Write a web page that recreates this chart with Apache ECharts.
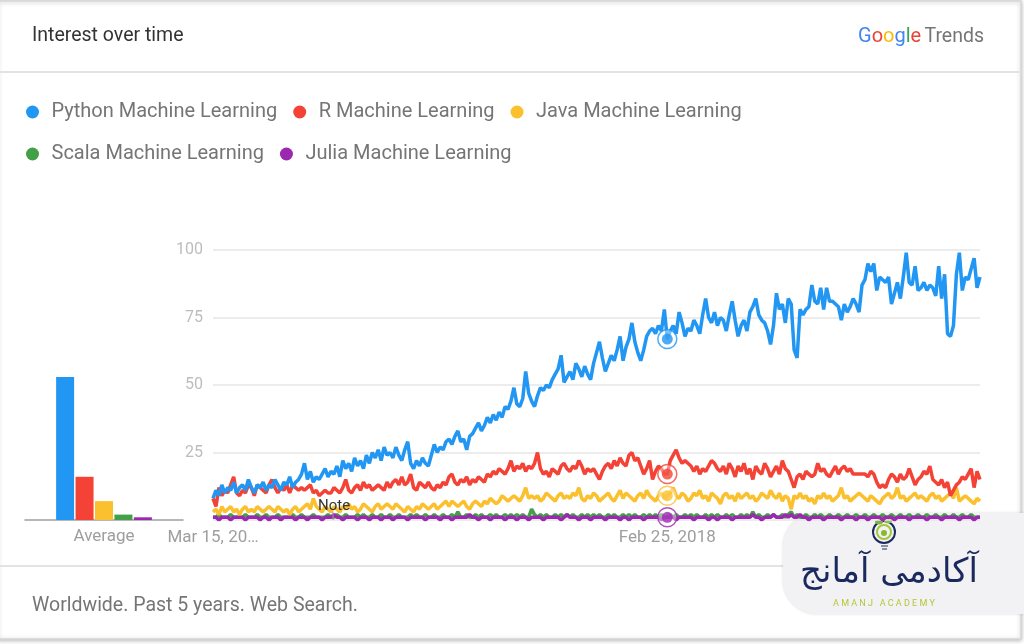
<!DOCTYPE html>
<html>
<head>
<meta charset="utf-8">
<script src="https://cdn.jsdelivr.net/npm/echarts@6/dist/echarts.min.js"></script>
<style>
  html, body { margin: 0; padding: 0; background: #fff; }
  #chart { width: 1024px; height: 644px; }
</style>
</head>
<body>
<div id="chart"></div>
<script>
// weekly interest, Mar 15 2015 .. Mar 2020 (261 weeks)
let python = [
    8, 11, 9, 13, 10, 12, 11, 14, 10, 12,
    13, 11, 15, 12, 10, 13, 12, 14, 11, 13,
    12, 15, 13, 11, 14, 13, 16, 12, 14, 15,
    17, 21, 15, 18, 14, 16, 15, 17, 19, 16,
    18, 17, 20, 16, 22, 19, 21, 18, 23, 20,
    22, 19, 24, 21, 25, 23, 26, 22, 27, 24,
    25, 23, 27, 24, 22, 26, 29, 21, 19, 22,
    20, 23, 21, 20, 24, 28, 25, 27, 26, 29,
    30, 28, 31, 33, 29, 30, 26, 31, 32, 34,
    36, 33, 35, 38, 36, 39, 37, 40, 38, 42,
    41, 44, 49, 43, 42, 45, 55, 47, 44, 42,
    46, 49, 48, 50, 49, 52, 54, 56, 61, 51,
    53, 55, 52, 58, 56, 53, 57, 54, 52, 58,
    62, 66, 60, 55, 58, 61, 59, 63, 68, 59,
    64, 67, 73, 66, 62, 59, 63, 68, 70, 71,
    69, 72, 70, 78, 67, 70, 72, 69, 77, 73,
    68, 71, 70, 74, 72, 69, 76, 82, 75, 73,
    77, 72, 75, 74, 70, 76, 81, 74, 68, 72,
    74, 70, 77, 79, 82, 76, 74, 73, 70, 65,
    72, 84, 78, 80, 73, 82, 80, 63, 60, 78,
    76, 78, 79, 87, 81, 80, 86, 78, 86, 81,
    81, 80, 79, 74, 80, 77, 79, 82, 80, 77,
    87, 89, 95, 92, 95, 85, 90, 89, 88, 90,
    80, 84, 88, 82, 90, 99, 88, 87, 94, 85,
    86, 88, 85, 87, 86, 83, 94, 82, 91, 69,
    68, 72, 91, 99, 85, 90, 89, 93, 97, 86,
    90
];
let rLang = [
    8, 5, 12, 9, 11, 10, 13, 16, 10, 9,
    11, 10, 13, 12, 9, 13, 12, 11, 10, 13,
    15, 12, 10, 12, 11, 13, 10, 13, 12, 11,
    12, 11, 12, 13, 10, 11, 9, 10, 11, 10,
    10, 12, 11, 10, 12, 15, 11, 10, 12, 13,
    11, 14, 12, 13, 11, 12, 13, 12, 11, 14,
    12, 14, 15, 13, 16, 13, 14, 17, 12, 11,
    14, 13, 12, 14, 12, 11, 13, 12, 14, 13,
    16, 17, 14, 13, 15, 14, 16, 13, 15, 14,
    16, 15, 14, 17, 16, 18, 17, 19, 18, 17,
    19, 22, 18, 20, 19, 21, 18, 20, 19, 21,
    25, 19, 17, 18, 16, 19, 18, 17, 20, 21,
    19, 18, 20, 19, 22, 20, 17, 19, 18, 19,
    17, 15, 18, 20, 21, 19, 22, 20, 23, 21,
    20, 24, 25, 22, 23, 20, 17, 19, 22, 15,
    18, 20, 19, 17, 17, 22, 24, 26, 23, 21,
    22, 21, 20, 18, 20, 17, 19, 18, 20, 22,
    21, 19, 18, 20, 17, 21, 19, 16, 20, 18,
    21, 17, 19, 15, 20, 18, 17, 21, 19, 16,
    18, 20, 17, 22, 19, 18, 15, 12, 16, 17,
    15, 18, 17, 16, 17, 21, 18, 19, 17, 16,
    18, 20, 17, 19, 20, 18, 19, 17, 17, 17,
    17, 17, 16, 18, 17, 14, 12, 13, 12, 15,
    17, 16, 14, 17, 15, 16, 19, 16, 13, 15,
    16, 18, 17, 20, 15, 14, 13, 15, 12, 14,
    9, 11, 13, 14, 16, 15, 17, 19, 12, 18,
    15
];
let java = [
    3, 4, 2, 5, 3, 4, 5, 3, 4, 2,
    4, 5, 3, 4, 3, 5, 4, 3, 4, 5,
    4, 3, 5, 4, 3, 4, 2, 4, 5, 3,
    4, 5, 6, 4, 8, 5, 4, 3, 5, 4,
    3, 5, 4, 3, 5, 4, 6, 4, 5, 3,
    4, 6, 5, 4, 3, 5, 6, 4, 5, 6,
    5, 4, 6, 5, 4, 3, 5, 4, 3, 5,
    4, 6, 5, 4, 5, 6, 4, 5, 6, 7,
    5, 7, 6, 5, 6, 7, 5, 4, 6, 7,
    6, 5, 7, 6, 8, 7, 6, 7, 9, 8,
    7, 8, 9, 8, 7, 9, 12, 8, 9, 8,
    9, 7, 8, 10, 9, 8, 7, 9, 10, 8,
    9, 8, 10, 9, 12, 8, 7, 9, 8, 10,
    9, 7, 8, 9, 10, 8, 7, 9, 11, 8,
    10, 9, 8, 7, 9, 10, 8, 11, 9, 8,
    7, 9, 10, 8, 9, 10, 12, 9, 8, 10,
    9, 7, 8, 10, 9, 11, 8, 9, 7, 10,
    9, 8, 6, 9, 10, 8, 9, 7, 10, 8,
    9, 10, 8, 9, 7, 8, 10, 9, 8, 11,
    9, 8, 10, 7, 9, 8, 4, 9, 8, 10,
    8, 9, 7, 8, 6, 9, 8, 10, 8, 9,
    7, 8, 9, 12, 8, 9, 7, 8, 9, 10,
    9, 8, 7, 9, 8, 7, 6, 8, 9, 10,
    8, 9, 12, 8, 9, 7, 8, 9, 10, 8,
    9, 8, 7, 9, 10, 8, 9, 7, 8, 9,
    10, 8, 12, 7, 8, 9, 8, 7, 6, 8,
    7
];
let scala = [
    1, 1, 2, 1, 1, 1, 2, 1, 1, 1,
    1, 2, 1, 1, 1, 2, 1, 1, 2, 1,
    1, 1, 2, 1, 1, 1, 1, 2, 1, 1,
    2, 1, 1, 1, 2, 1, 1, 1, 1, 2,
    1, 1, 2, 1, 1, 2, 1, 1, 1, 2,
    1, 2, 1, 1, 2, 1, 1, 2, 1, 1,
    2, 1, 1, 2, 1, 1, 1, 2, 1, 2,
    1, 1, 2, 1, 1, 2, 1, 1, 2, 1,
    1, 2, 1, 3, 1, 1, 2, 1, 1, 2,
    1, 2, 1, 1, 2, 1, 2, 1, 1, 2,
    1, 2, 1, 2, 1, 2, 1, 1, 4, 2,
    1, 2, 1, 2, 1, 1, 2, 1, 2, 1,
    2, 1, 2, 1, 1, 2, 1, 2, 1, 2,
    1, 2, 1, 1, 2, 1, 2, 1, 1, 2,
    1, 2, 1, 2, 1, 1, 2, 1, 2, 1,
    2, 1, 2, 1, 1, 2, 1, 2, 1, 1,
    2, 1, 2, 1, 2, 1, 1, 2, 1, 2,
    1, 2, 1, 1, 2, 1, 2, 1, 1, 2,
    1, 2, 1, 3, 1, 2, 1, 1, 2, 1,
    2, 1, 1, 2, 1, 2, 3, 1, 2, 1,
    1, 2, 1, 1, 2, 1, 2, 1, 1, 2,
    1, 1, 2, 1, 1, 2, 1, 1, 2, 1,
    1, 2, 1, 1, 2, 1, 1, 2, 1, 1,
    2, 1, 1, 2, 1, 1, 2, 1, 1, 2,
    1, 1, 2, 1, 1, 2, 1, 1, 2, 1,
    1, 2, 1, 1, 2, 1, 1, 2, 1, 1,
    1
];
let julia = [
    1, 1, 0, 1, 1, 1, 0, 1, 1, 1,
    1, 0, 1, 1, 1, 1, 0, 1, 1, 0,
    1, 1, 1, 0, 1, 1, 1, 1, 0, 1,
    1, 1, 0, 1, 1, 1, 1, 0, 1, 1,
    1, 2, 1, 1, 0, 1, 1, 1, 1, 0,
    1, 1, 1, 0, 1, 1, 1, 0, 1, 1,
    1, 0, 1, 1, 1, 1, 0, 1, 1, 1,
    1, 1, 0, 1, 1, 1, 1, 0, 1, 1,
    1, 0, 1, 1, 1, 1, 1, 2, 1, 1,
    0, 1, 1, 1, 0, 1, 1, 1, 1, 0,
    1, 1, 1, 0, 1, 1, 1, 0, 1, 1,
    1, 1, 0, 1, 1, 1, 1, 1, 0, 1,
    2, 1, 1, 1, 0, 1, 1, 1, 0, 1,
    1, 1, 1, 0, 1, 1, 1, 1, 0, 1,
    1, 0, 1, 1, 1, 1, 0, 1, 1, 1,
    1, 1, 0, 1, 1, 1, 1, 0, 1, 1,
    1, 1, 1, 0, 1, 1, 1, 1, 0, 1,
    1, 0, 1, 1, 1, 1, 0, 1, 1, 1,
    1, 1, 1, 2, 1, 1, 0, 1, 1, 1,
    2, 1, 1, 1, 2, 1, 2, 1, 1, 2,
    1, 1, 0, 1, 1, 1, 1, 0, 1, 1,
    1, 1, 1, 0, 1, 1, 1, 1, 0, 1,
    1, 1, 0, 1, 1, 1, 1, 0, 1, 1,
    1, 0, 1, 1, 1, 1, 0, 1, 1, 1,
    1, 1, 0, 1, 1, 1, 1, 0, 1, 1,
    1, 1, 1, 0, 1, 1, 1, 1, 0, 1,
    1
];

let names = ['Python Machine Learning', 'R Machine Learning', 'Java Machine Learning',
    'Scala Machine Learning', 'Julia Machine Learning'];
let averages = [53, 16, 7, 2, 1];
let colors = ['#2196f3', '#f44336', '#fbc02d', '#43a047', '#9c27b0'];
let tickIndex = [0, 154];
let tickText = ['Mar 15, 20\u2026', 'Feb 25, 2018'];
let hoverIndex = 154;

// weekly category labels
let months = ['Jan', 'Feb', 'Mar', 'Apr', 'May', 'Jun', 'Jul', 'Aug', 'Sep', 'Oct', 'Nov', 'Dec'];
let weeks = [];
for (let i = 0; i < python.length; i++) {
    let d = new Date(Date.UTC(2015, 2, 15) + i * 7 * 864e5);
    weeks.push(months[d.getUTCMonth()] + ' ' + d.getUTCDate() + ', ' + d.getUTCFullYear());
}

let seriesData = [python, rLang, java, scala, julia];
let zOrder = [6, 5, 4, 2, 3];
let font = 'Roboto';

let series = [];
seriesData.forEach((data, i) => {
    series.push({
        name: names[i],
        type: 'line',
        data: data,
        symbol: 'none',
        z: zOrder[i],
        lineStyle: {width: 3.5, color: colors[i]},
        itemStyle: {color: colors[i]}
    });
});
// hover rings at Feb 25, 2018
seriesData.forEach((data, i) => {
    if (i === 3) return;
    series.push({
        type: 'scatter',
        z: 8,
        silent: true,
        data: [[hoverIndex, data[hoverIndex]]],
        symbolSize: 19,
        itemStyle: {color: 'rgba(255,255,255,0.5)', borderColor: colors[i], borderWidth: 1.5}
    }, {
        type: 'scatter',
        z: 9,
        silent: true,
        data: [[hoverIndex, data[hoverIndex]]],
        symbolSize: 11,
        itemStyle: {color: colors[i]}
    });
});
// average bars
averages.forEach((v, i) => {
    series.push({
        type: 'bar',
        xAxisIndex: 1,
        yAxisIndex: 1,
        barWidth: 18,
        barGap: '8%',
        data: [v],
        itemStyle: {color: colors[i]}
    });
});

let legendCommon = {
    icon: 'circle',
    itemWidth: 28,
    itemHeight: 13,
    itemGap: 16,
    selectedMode: false,
    textStyle: {fontFamily: font, fontSize: 20, color: '#757575'}
};

let option = {
    backgroundColor: '#fff',
    animation: false,
    legend: [
        Object.assign({left: 21, top: 97, data: names.slice(0, 3)}, legendCommon),
        Object.assign({left: 21, top: 139, data: names.slice(3)}, legendCommon)
    ],
    grid: [
        {left: 213, right: 44, top: 250, bottom: 124},
        {left: 25, width: 158, top: 250, bottom: 124}
    ],
    xAxis: [{
        type: 'category',
        data: weeks,
        boundaryGap: false,
        axisLine: {show: false},
        axisTick: {show: false},
        axisLabel: {
            interval: idx => tickIndex.includes(idx),
            formatter: (val, idx) => tickText[tickIndex.indexOf(idx)],
            color: '#9e9e9e',
            fontFamily: font,
            fontSize: 17,
            margin: 9
        }
    }, {
        type: 'category',
        gridIndex: 1,
        data: ['Average'],
        axisLine: {lineStyle: {color: '#9e9e9e', width: 1.5}},
        axisTick: {show: false},
        axisLabel: {color: '#9e9e9e', fontFamily: font, fontSize: 17, margin: 8}
    }],
    yAxis: [{
        type: 'value',
        min: 0,
        max: 100,
        interval: 25,
        axisLine: {show: false},
        axisTick: {show: false},
        axisLabel: {
            color: '#bdbdbd', fontFamily: font, fontSize: 16, margin: 10,
            formatter: v => v === 0 ? '' : v
        },
        splitLine: {lineStyle: {color: '#e6e6e6', width: 1.5}}
    }, {
        type: 'value',
        gridIndex: 1,
        min: 0,
        max: 100,
        show: false
    }],
    series: series,
    graphic: [
        // card frame
        {type: 'rect', shape: {x: -2, y: 1, width: 1023, height: 638}, silent: true, z: -10,
            style: {fill: '#fff', stroke: '#d6d6d6', lineWidth: 1.5,
                shadowBlur: 4, shadowColor: 'rgba(0,0,0,0.25)', shadowOffsetY: 1}},
        {type: 'line', shape: {x1: 0, y1: 72, x2: 1021, y2: 72}, silent: true,
            style: {stroke: '#e3e3e3', lineWidth: 2}},
        {type: 'line', shape: {x1: 0, y1: 566, x2: 1021, y2: 566}, silent: true,
            style: {stroke: '#e3e3e3', lineWidth: 2}},
        {type: 'text', left: 32, top: 26, silent: true,
            style: {text: 'Interest over time', fontFamily: font, fontSize: 19.5, fill: '#333'}},
        {type: 'text', right: 40, top: 27, silent: true,
            style: {
                text: '{b|G}{r|o}{y|o}{b|g}{g|l}{r|e} {t|Trends}',
                rich: {
                    b: {fill: '#4285f4', fontFamily: font, fontSize: 20},
                    r: {fill: '#ea4335', fontFamily: font, fontSize: 20},
                    y: {fill: '#fbbc05', fontFamily: font, fontSize: 20},
                    g: {fill: '#34a853', fontFamily: font, fontSize: 20},
                    t: {fill: '#757575', fontFamily: font, fontSize: 19.5}
                }
            }},
        {type: 'text', left: 32, top: 596, silent: true,
            style: {text: 'Worldwide. Past 5 years. Web Search.', fontFamily: font, fontSize: 19.5, fill: '#757575'}},
        // annotation
        {type: 'line', shape: {x1: 333, y1: 512, x2: 333, y2: 520}, z: 20, silent: true,
            style: {stroke: '#9e9e9e', lineWidth: 1}},
        {type: 'text', x: 318, y: 499, z: 20, silent: true,
            style: {text: 'Note', fontFamily: font, fontSize: 15, fill: '#333'}},
        // watermark
        {type: 'group', z: 50, silent: true, children: [
            {type: 'rect', shape: {x: 783, y: 513, width: 250, height: 101, r: [34, 0, 0, 34]},
                style: {fill: '#f2f2f4', shadowBlur: 3, shadowColor: 'rgba(0,0,0,0.15)'}},
            {type: 'circle', shape: {cx: 884, cy: 532, r: 11},
                style: {fill: 'none', stroke: '#1b2a5e', lineWidth: 2}},
            {type: 'circle', shape: {cx: 884, cy: 532, r: 7},
                style: {fill: 'none', stroke: '#a4c639', lineWidth: 2}},
            {type: 'circle', shape: {cx: 884, cy: 533, r: 3}, style: {fill: '#8bb82f'}},
            {type: 'ellipse', shape: {cx: 879, cy: 522, rx: 4, ry: 2.5}, style: {fill: '#7cb342'}},
            {type: 'ellipse', shape: {cx: 888, cy: 521, rx: 4, ry: 2.5}, style: {fill: '#8bc34a'}},
            {type: 'line', shape: {x1: 881, y1: 546, x2: 888, y2: 546}, style: {stroke: '#1b2a5e', lineWidth: 1}},
            {type: 'line', shape: {x1: 882, y1: 549, x2: 887, y2: 549}, style: {stroke: '#1b2a5e', lineWidth: 1}},
            {type: 'text', x: 889, y: 573,
                style: {text: '\u0622\u06a9\u0627\u062f\u0645\u06cc \u0622\u0645\u0627\u0646\u062c',
                    fontFamily: 'DejaVu Sans', fontSize: 34, fill: '#1b2a5e',
                    align: 'center', verticalAlign: 'middle'}},
            {type: 'text', x: 884, y: 604,
                style: {text: 'A M A N J   A C A D E M Y', fontFamily: font, fontSize: 9,
                    fill: '#b5c637', align: 'center', verticalAlign: 'middle'}}
        ]}
    ]
};

echarts.init(document.getElementById('chart')).setOption(option);
</script>
</body>
</html>
